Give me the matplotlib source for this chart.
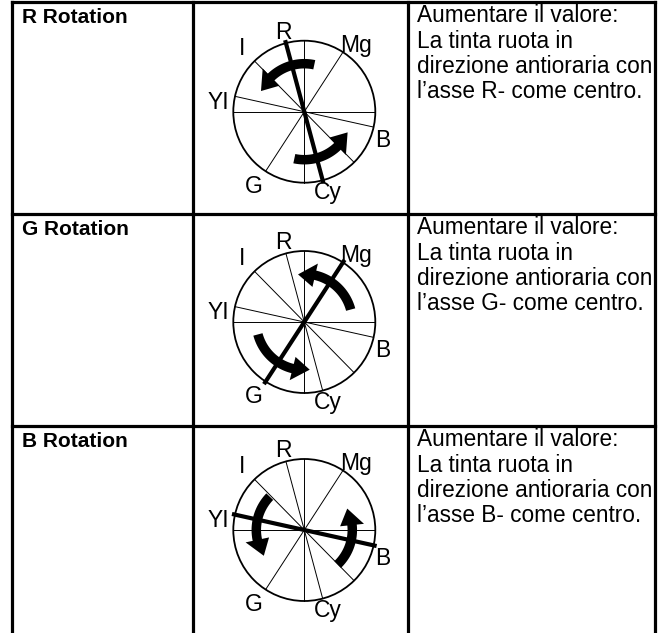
import numpy as np
import matplotlib
matplotlib.use("Agg")
import matplotlib.pyplot as plt
from matplotlib.patches import Circle, Polygon

# ---- data ----
row_titles = ["R Rotation", "G Rotation", "B Rotation"]
axis_names = ["R", "G", "B"]
desc_template = ["Aumentare il valore:", "La tinta ruota in",
                 "direzione antioraria con", "l\u2019asse {}- come centro."]
hue_labels = ["R", "Mg", "I", "YI", "B", "G", "Cy"]
hue_label_offsets = [(-21, -73), (52, -60), (-62, -57), (-86, -3), (78, 35), (-50, 81), (24, 87)]
spoke_angles = [0, 57, 90, 105, 134.5, 167.5]      # diameters (deg)
highlight_angle = [105, 57, 167.5]                   # thick axis per row
arrow_arcs = [[(78, 153), (258, 333)],
              [(15, 96), (195, 275)],
              [(136, 211), (314, 385)]]

W, H = 662, 633
fig = plt.figure(figsize=(W / 100, H / 100), dpi=100)
ax = fig.add_axes([0, 0, 1, 1])
ax.set_xlim(0, W)
ax.set_ylim(H, 0)
ax.axis("off")

FONT = "Liberation Sans"

# table grid
x_lines = [12, 193, 408, 655]
y_lines = [2, 214, 426]
lw_tab = 2.3
for x in x_lines:
    ax.plot([x, x], [y_lines[0], H + 5], color="black", lw=lw_tab, solid_capstyle="projecting")
for y in y_lines:
    ax.plot([x_lines[0], x_lines[-1]], [y, y], color="black", lw=lw_tab, solid_capstyle="projecting")

cx = 304.3
cys = [111.7, 322, 530]
R = 71
r_arrow = 48


def pt(cx, cy, rad, ang):
    a = np.deg2rad(ang)
    return cx + rad * np.cos(a), cy - rad * np.sin(a)


def curved_arrow(cx, cy, r, a0, a1, w=9.5, head_w=24, head_len=16):
    dh = np.rad2deg(head_len / r)
    ab = a1 - dh
    angs = np.linspace(a0, ab, 40)
    outer = [pt(cx, cy, r + w / 2, a) for a in angs]
    inner = [pt(cx, cy, r - w / 2, a) for a in angs[::-1]]
    head = [pt(cx, cy, r + head_w / 2, ab), pt(cx, cy, r, a1 + 1.5), pt(cx, cy, r - head_w / 2, ab)]
    band = outer + head + inner
    ax.add_patch(Polygon(band, closed=True, facecolor="black", edgecolor="none", zorder=5))


for i, cy in enumerate(cys):
    top = y_lines[i]
    # title
    ax.text(22, top + 21, row_titles[i], fontsize=15, fontweight="bold",
            family=FONT, ha="left", va="baseline")
    # description
    for j, line in enumerate(desc_template):
        ax.text(417, top + 20 + j * 25.5, line.format(axis_names[i]), fontsize=16.3,
                family=FONT, ha="left", va="baseline")
    # circle
    ax.add_patch(Circle((cx, cy), R, facecolor="white", edgecolor="black", lw=1.3, zorder=2))
    for a in spoke_angles:
        p1 = pt(cx, cy, R, a)
        p2 = pt(cx, cy, R, a + 180)
        ax.plot([p1[0], p2[0]], [p1[1], p2[1]], color="black", lw=0.7, zorder=3)
    ha_ = highlight_angle[i]
    p1 = pt(cx, cy, R + 1, ha_)
    p2 = pt(cx, cy, R + 1, ha_ + 180)
    ax.plot([p1[0], p2[0]], [p1[1], p2[1]], color="black", lw=3.0, zorder=4)
    for a0, a1 in arrow_arcs[i]:
        curved_arrow(cx, cy, r_arrow, a0, a1)
    for lab, (dx, dy) in zip(hue_labels, hue_label_offsets):
        ax.text(cx + dx, cy + dy, lab, fontsize=16.5, family=FONT,
                ha="center", va="baseline", zorder=6)

fig.savefig("out.png", dpi=100)
